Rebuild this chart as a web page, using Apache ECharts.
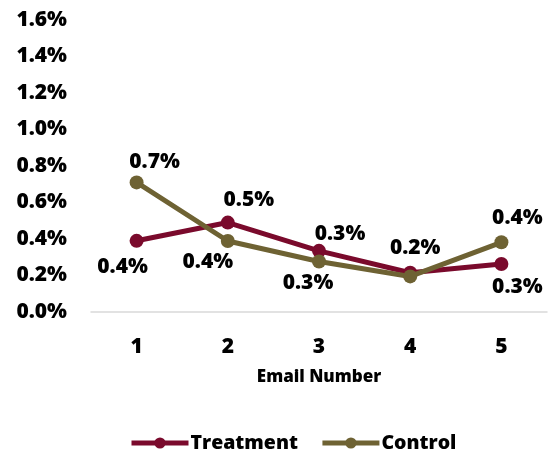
<!DOCTYPE html>
<html><head><meta charset="utf-8">
<script src="https://cdn.jsdelivr.net/npm/echarts@6/dist/echarts.min.js"></script>
<style>html,body{margin:0;padding:0;background:#fff}#c{width:552px;height:456px}</style>
</head><body><div id="c"></div>
<script>
const categories = ['1','2','3','4','5'];
const treatment = [0.39, 0.49, 0.335, 0.215, 0.263];
const control = [0.71, 0.389, 0.277, 0.195, 0.382];

const FONT = 'Open Sans';
const W = 800;
// label placement (style): [dx, dy] from the marker centre, null = hidden
const treatmentLabelOffset = [[-14, 26], [21, -23], [21, -17], null, [16, 23]];
const controlLabelOffset = [[18, -20], [-20, 21], [-11, 22], [5, -28], [16, -24]];
function mk(vals, offs) {
  return vals.map((v, i) => ({
    value: v,
    label: offs[i] === null ? {show:false}
      : {show:true, position: 'inside', offset: offs[i]}
  }));
}
const labelStyle = {fontFamily: FONT, fontWeight: W, fontSize: 21, color: '#000',
  align: 'center', verticalAlign: 'middle',
  formatter: p => p.value.toFixed(1) + '%'};
const chart = echarts.init(document.getElementById('c'));
chart.setOption({
  animation: false,
  textStyle: {fontFamily: FONT},
  grid: {left: 91, right: 5, top: 20, bottom: 144},
  legend: {
    top: 428, left: 124, itemWidth: 57, itemHeight: 14, itemGap: 22,
    lineStyle: {width: 5},
    textStyle: {fontFamily: FONT, fontWeight: W, fontSize: 19.5, color: '#000', padding: [0,0,0,-3]},
    data: ['Treatment','Control']
  },
  xAxis: {
    type: 'category', data: categories, boundaryGap: true,
    name: 'Email Number', nameLocation: 'middle', nameGap: 57,
    nameTextStyle: {fontFamily: FONT, fontWeight: W, fontSize: 17, color: '#000'},
    axisLine: {lineStyle: {color: '#d9d9d9', width: 1.5}},
    axisTick: {show: false},
    axisLabel: {fontFamily: FONT, fontWeight: W, fontSize: 21, color: '#000', margin: 25}
  },
  yAxis: {
    type: 'value', min: 0, max: 1.6, interval: 0.2,
    splitLine: {show: false}, axisLine: {show: false}, axisTick: {show: false},
    axisLabel: {fontFamily: FONT, fontWeight: W, fontSize: 21, color: '#000', margin: 24,
      formatter: v => v.toFixed(1) + '%'}
  },
  series: [
    {name: 'Treatment', type: 'line', data: mk(treatment, treatmentLabelOffset),
     color: '#7A0A2C', symbol: 'circle', symbolSize: 14,
     lineStyle: {width: 5}, z: 2, label: labelStyle},
    {name: 'Control', type: 'line', data: mk(control, controlLabelOffset),
     color: '#6E6233', symbol: 'circle', symbolSize: 14,
     lineStyle: {width: 5}, z: 3, label: labelStyle}
  ]
});
</script></body></html>
